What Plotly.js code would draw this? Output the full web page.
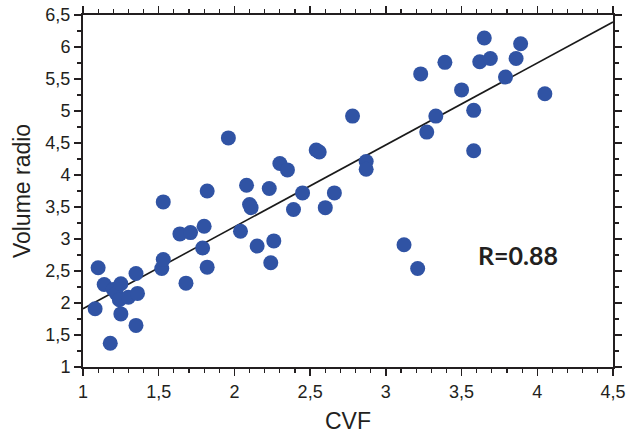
<!DOCTYPE html>
<html>
<head>
<meta charset="utf-8">
<script src="https://cdn.plot.ly/plotly-3.0.1.min.js"></script>
<style>html,body{margin:0;padding:0;background:#fff;}#chart{width:630px;height:442px;}</style>
</head>
<body>
<div id="chart"></div>
<script>
// CVF values (x)
const cvf = [1.08,1.10,1.14,1.18,1.20,1.22,1.24,1.25,1.25,1.30,1.35,1.35,1.36,1.52,1.53,1.53,1.64,1.68,1.71,1.79,1.80,1.82,1.82,1.96,2.04,2.08,2.10,2.11,2.15,2.23,2.24,2.26,2.30,2.35,2.39,2.45,2.54,2.56,2.60,2.66,2.78,2.87,2.87,3.12,3.21,3.23,3.27,3.33,3.39,3.50,3.58,3.58,3.62,3.65,3.69,3.79,3.86,3.89,4.05];
// Volume radio values (y)
const volumeRadio = [1.91,2.55,2.29,1.37,2.21,2.15,2.05,2.30,1.83,2.09,2.46,1.65,2.15,2.54,2.68,3.58,3.08,2.31,3.10,2.86,3.20,2.56,3.75,4.58,3.12,3.84,3.54,3.49,2.89,3.79,2.63,2.97,4.18,4.08,3.46,3.72,4.39,4.36,3.49,3.72,4.92,4.21,4.09,2.91,2.54,5.58,4.67,4.92,5.76,5.33,5.01,4.38,5.77,6.14,5.82,5.53,5.82,6.05,5.27];
// regression line end points
const fitX = [1, 4.5];
const fitY = [1.91, 6.39];
// tick labels
const xTickVals = [1,1.5,2,2.5,3,3.5,4,4.5];
const xTickText = ["1","1,5","2","2,5","3","3,5","4","4,5"];
const yTickVals = [1,1.5,2,2.5,3,3.5,4,4.5,5,5.5,6,6.5];
const yTickText = ["1","1,5","2","2,5","3","3,5","4","4,5","5","5,5","6","6,5"];
const xTitle = "CVF";
const yTitle = "Volume radio";
const rLabel = "R=0.88";
const rPos = [3.87, 2.745];

const ink = '#231F20';
const tickFont = {family: 'Liberation Sans, Arial, sans-serif', size: 18, color: ink};

const traces = [
  {x: fitX, y: fitY, mode: 'lines', line: {color: '#1a1a1a', width: 1.6}, hoverinfo: 'skip', showlegend: false},
  {x: cvf, y: volumeRadio, mode: 'markers', marker: {size: 15, color: '#3053A4', line: {width: 0}}, showlegend: false}
];

const layout = {
  width: 630, height: 442,
  margin: {l: 83, r: 17, t: 15, b: 75},
  paper_bgcolor: '#fff', plot_bgcolor: '#fff',
  showlegend: false,
  xaxis: {
    range: [1, 4.5], tickmode: 'array', tickvals: xTickVals, ticktext: xTickText,
    ticks: 'outside', ticklen: 7, tickwidth: 1.5, tickcolor: ink, mirror: 'ticks',
    minor: {dtick: 0.1, tick0: 1, ticks: 'outside', ticklen: 4, tickwidth: 1.2, tickcolor: ink, showgrid: false},
    showline: true, linecolor: ink, linewidth: 2, showgrid: false, zeroline: false,
    tickfont: tickFont,
    title: {text: xTitle, font: {family: 'Liberation Sans, Arial, sans-serif', size: 23, color: ink}, standoff: 12}
  },
  yaxis: {
    range: [1, 6.5], tickmode: 'array', tickvals: yTickVals, ticktext: yTickText,
    ticks: 'outside', ticklen: 7, tickwidth: 1.5, tickcolor: ink, mirror: 'ticks',
    minor: {dtick: 0.25, tick0: 1, ticks: 'outside', ticklen: 4, tickwidth: 1.2, tickcolor: ink, showgrid: false},
    showline: true, linecolor: ink, linewidth: 2, showgrid: false, zeroline: false,
    tickfont: tickFont,
    title: {text: yTitle, font: {family: 'Liberation Sans, Arial, sans-serif', size: 23, color: ink}, standoff: 8}
  },
  annotations: [{
    x: rPos[0], y: rPos[1], xref: 'x', yref: 'y', text: '<b>' + rLabel + '</b>', showarrow: false,
    font: {family: 'Lato, Carlito, sans-serif', size: 25, color: ink}
  }]
};

Plotly.newPlot('chart', traces, layout, {staticPlot: true, displayModeBar: false});
</script>
</body>
</html>
